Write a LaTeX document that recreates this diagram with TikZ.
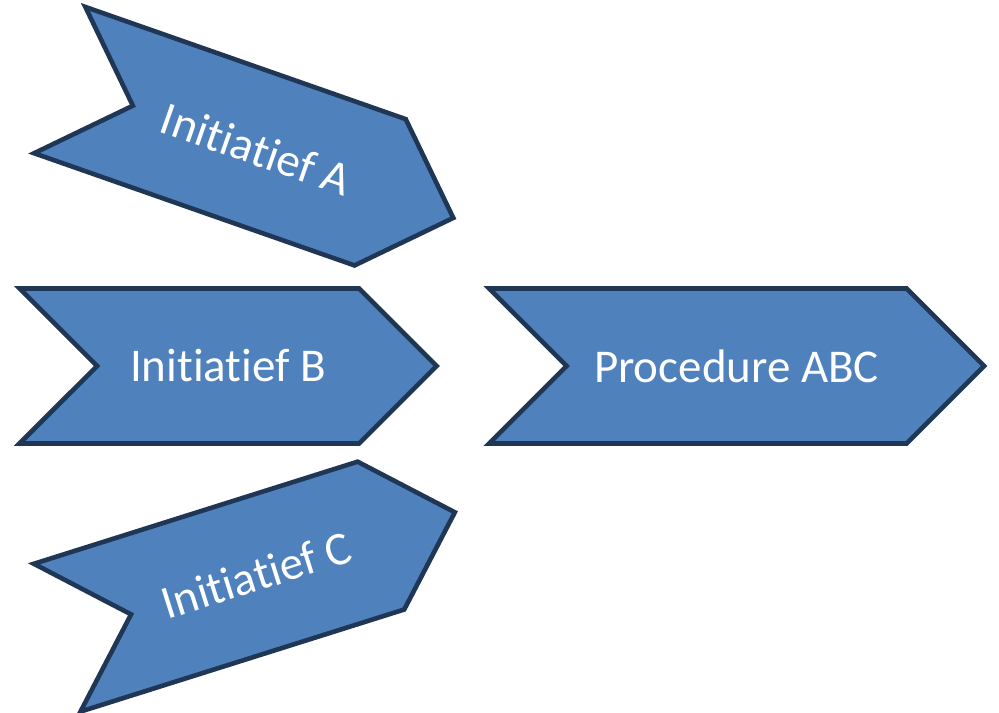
\documentclass[tikz,border=0pt]{standalone}
\usepackage{fontspec}
\setmainfont{Carlito}[RawFeature={-liga;-clig;-calt}]
\usetikzlibrary{shapes.symbols}
\definecolor{chevronblue}{HTML}{4F81BD}
\definecolor{chevronedge}{HTML}{1F3654}
\begin{document}
\begin{tikzpicture}[x=1pt,y=1pt]

\tikzstyle{mychevron}=[
  signal,
  signal to=east,
  signal from=west,
  signal pointer angle=90,
  draw=chevronedge,
  line width=2.3pt,
  fill=chevronblue,
  text=white,
  font=\fontsize{23.5}{28}\selectfont,
  inner sep=0pt,
  minimum height=77.5pt,
  minimum width=208.5pt]

\tikzstyle{myprocedure}=[mychevron, minimum width=247.5pt]

\useasboundingbox (0,0) rectangle (499.5,356);

% define points
\path
  (128.25,281.5) coordinate(PA)
  (114,173) coordinate(PB)
  (128,68.5) coordinate(PC)
  (368.25,173) coordinate(PP)
  ;

\node[mychevron, rotate=-19.3] (IA) at (PA) {Initiatief A};
\node[mychevron] (IB) at (PB) {Initiatief B};
\node[mychevron, rotate=17.5] (IC) at (PC) {Initiatief C};

\node[myprocedure] (PR) at (PP) {Procedure ABC};

\end{tikzpicture}
\end{document}
